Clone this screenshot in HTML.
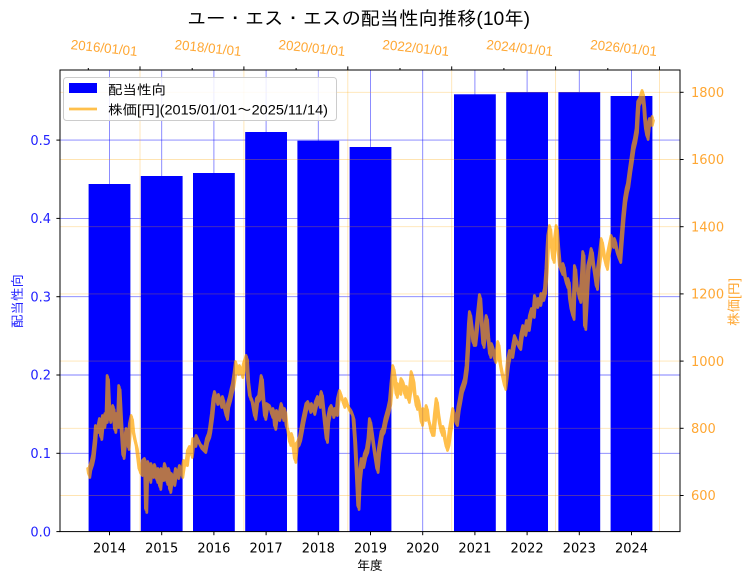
<!DOCTYPE html>
<html>
<head>
<meta charset="utf-8">
<style>
html,body{margin:0;padding:0;background:#fff;}
svg{display:block;}
.tk{font-family:"DejaVu Sans","Liberation Sans",sans-serif;font-size:13px;}
.jp{font-family:"Liberation Sans","IPAGothic","Noto Sans CJK JP",sans-serif;}
</style>
</head>
<body>
<svg width="753" height="584" viewBox="0 0 753 584" xmlns="http://www.w3.org/2000/svg">
<defs>
<polyline id="px" fill="none" stroke="#ffa500" stroke-width="2.8" stroke-linejoin="round" stroke-linecap="round" points="
88.3,470 89,475 90,468 92,462 93.3,456 95,440 96,427 98,430 100,420 101,437 103,417 104,425 105.5,415 106.5,420 107.7,377 109,405 110,420 111,412 113.3,407 115,430 116.5,415 118,425 119.3,387 121,420 123.3,456 125,440 126.7,430 128.3,447 130,425 131.7,417 133,430 135,440 136.7,447 138,458 139.5,470 141.7,473 143,462 145,460 146,510 147,470 148.3,463 150,480 151.5,465 153,475 155,466 157,480 158.5,470 160,487 161.5,470 163,478 165,465 167,482 169,470 170,490 172,475 174,483 176,470 178,476 180,467 182,475 184,462 186.7,463 188,452 190,448 191.5,455 193.3,440 195,444 196.7,437 199,442 201,446 203,448 205,450 207,440 209,435 210,430 212,415 213.5,400 215,393 217,402 219,396 221,405 223,398 225,410 226.7,417 228,405 230,398 231.7,390 233,385 234.5,375 236,363 238,372 240,367 242,375 244,365 246.7,357 248,380 250,397 252,400 255,417 257,400 259.3,397 261.7,377 263,395 265,417 267,405 270,407 272,415 273.5,410 275,427 277,412 279,418 281.7,405 283,418 285,410 286.7,427 288,430 290,443 292,435 293.5,448 295,460 296.5,445 298.3,443 300,438 301.5,430 303.3,420 305,412 306.5,405 308.3,403 310,410 312,405 314,412 316,403 318,398 319.5,405 321.7,393 323.5,410 325,425 326.7,440 328,420 330,410 331.7,407 333,415 335,410 336.7,413 338,400 340,392 342,398 344,405 346,400 348.3,407 350,410 351.5,412 353.3,417 355,440 356.7,473 357.5,490 358.3,507 359.5,480 361.7,460 363,465 365,455 367,450 368.5,440 370,420 371.5,430 373.3,443 375,455 377.3,470 379,450 381.7,433 383.5,430 385.5,420 388.3,410 390,402 391.5,385 393.3,367 395,378 396.5,395 398,385 400,392 401.5,380 403.3,383 405,395 407,388 408.5,400 410,390 411.7,373 413.3,380 414.5,393 416.7,407 418,398 420,410 421.7,423 423.5,410 425,418 426.7,407 428,418 430,425 431.7,433 433.3,433 435,415 436.7,400 438,412 440,425 441.7,433 443.5,428 445,440 446.7,448 448.3,443 450,430 451.7,420 453.3,410 455,420 456.7,423 458.5,408 460,400 461.7,390 463.5,385 465,380 466.7,367 468,345 469,325 470,313 471.5,325 473.3,343 475,343 476.5,330 478,315 480,296 481.5,320 483.3,345 485,330 486.7,317 488,335 490,355 492,345 493.5,350 495,360 497,352 498.3,343 500,362 501.5,370 503,378 505,387 506.5,375 508,362 510,352 512,355 513.5,345 515,337 517,342 518.5,345 520,347 521.5,335 523.3,327 525,333 527,322 528.5,328 530,317 532,310 533.5,315 535,297 537,305 538.5,300 540,303 541.5,295 543,298 545,290 546.5,270 547.5,250 548.3,237 550,227 551.5,245 553.3,260 555,240 556.7,227 558,245 560,267 562,272 563.5,265 565,277 567,285 568.5,280 570,300 571.5,310 573.3,317 575,267 576.5,285 578,290 580,300 581.5,285 583.3,253 584.2,290 585,327 586.5,300 588.3,267 590,260 591.7,250 593,262 595,275 596.7,287 598,270 600,255 601.7,240 603,248 604.5,258 606.7,267 608,255 610,245 611.7,237 613,245 615,240 616.7,250 618,255 620,260 621.5,240 623.3,217 625,200 626.7,190 628,185 630,170 631.5,160 633.3,147 635,140 636.7,130 637.5,115 638.3,103 640,100 642.7,92 644,105 645,120 646,130 647.3,137 648.5,125 650,120 651.5,123 652.7,118"/>
</defs>
<rect x="0" y="0" width="753" height="584" fill="#fff"/>

<!-- blue grid -->
<g stroke="rgba(0,0,255,0.5)" stroke-width="0.9">
<line x1="109.5" y1="70" x2="109.5" y2="531.6"/>
<line x1="161.7" y1="70" x2="161.7" y2="531.6"/>
<line x1="213.9" y1="70" x2="213.9" y2="531.6"/>
<line x1="266.1" y1="70" x2="266.1" y2="531.6"/>
<line x1="318.3" y1="70" x2="318.3" y2="531.6"/>
<line x1="370.5" y1="70" x2="370.5" y2="531.6"/>
<line x1="422.7" y1="70" x2="422.7" y2="531.6"/>
<line x1="474.9" y1="70" x2="474.9" y2="531.6"/>
<line x1="527.1" y1="70" x2="527.1" y2="531.6"/>
<line x1="579.3" y1="70" x2="579.3" y2="531.6"/>
<line x1="631.5" y1="70" x2="631.5" y2="531.6"/>
<line x1="60" y1="453.3" x2="680" y2="453.3"/>
<line x1="60" y1="375.0" x2="680" y2="375.0"/>
<line x1="60" y1="296.7" x2="680" y2="296.7"/>
<line x1="60" y1="218.4" x2="680" y2="218.4"/>
<line x1="60" y1="140.1" x2="680" y2="140.1"/>
</g>

<!-- bars -->
<g fill="#0000ff">
<rect x="88.6" y="184" width="41.8" height="347.6"/>
<rect x="140.8" y="176" width="41.8" height="355.6"/>
<rect x="193.0" y="173" width="41.8" height="358.6"/>
<rect x="245.2" y="132" width="41.8" height="399.6"/>
<rect x="297.4" y="140.7" width="41.8" height="390.9"/>
<rect x="349.6" y="147" width="41.8" height="384.6"/>
<rect x="454.0" y="94.3" width="41.8" height="437.3"/>
<rect x="506.2" y="92" width="41.8" height="439.6"/>
<rect x="558.4" y="92" width="41.8" height="439.6"/>
<rect x="610.6" y="96" width="41.8" height="435.6"/>
</g>

<!-- orange grid -->
<g stroke="rgba(255,165,0,0.3)" stroke-width="0.9">
<line x1="60" y1="495.5" x2="680" y2="495.5"/>
<line x1="60" y1="428.3" x2="680" y2="428.3"/>
<line x1="60" y1="361.1" x2="680" y2="361.1"/>
<line x1="60" y1="293.9" x2="680" y2="293.9"/>
<line x1="60" y1="226.7" x2="680" y2="226.7"/>
<line x1="60" y1="159.5" x2="680" y2="159.5"/>
<line x1="60" y1="92.3" x2="680" y2="92.3"/>
<line x1="140" y1="70" x2="140" y2="531.6"/>
<line x1="243.9" y1="70" x2="243.9" y2="531.6"/>
<line x1="347.8" y1="70" x2="347.8" y2="531.6"/>
<line x1="451.7" y1="70" x2="451.7" y2="531.6"/>
<line x1="555.6" y1="70" x2="555.6" y2="531.6"/>
<line x1="659.5" y1="70" x2="659.5" y2="531.6"/>
</g>

<!-- price line (thickened noisy band, single alpha) -->
<g opacity="0.7">
<use href="#px"/>
<use href="#px" transform="translate(0.8 2.5)"/>
<use href="#px" transform="translate(-0.6 -1.5)"/>
</g>

<!-- legend -->
<rect x="63.5" y="77.5" width="273" height="43" rx="3" ry="3" fill="rgba(255,255,255,0.85)" stroke="#cccccc" stroke-width="1"/>
<rect x="69" y="83" width="28" height="10" fill="#0000ff"/>
<text class="jp" x="108" y="94.5" font-size="13.5" fill="#000" textLength="58" lengthAdjust="spacingAndGlyphs">配当性向</text>
<line x1="69" y1="109" x2="97" y2="109" stroke="rgba(255,165,0,0.7)" stroke-width="2.8"/>
<text class="jp" x="108" y="114.5" font-size="13.5" fill="#000" textLength="220" lengthAdjust="spacingAndGlyphs">株価[円](2015/01/01～2025/11/14)</text>

<!-- spines -->
<rect x="60" y="70" width="620" height="461.6" fill="none" stroke="#000" stroke-width="1"/>

<!-- ticks -->
<g stroke="#000" stroke-width="1">
<line x1="109.5" y1="531.6" x2="109.5" y2="535.2"/>
<line x1="161.7" y1="531.6" x2="161.7" y2="535.2"/>
<line x1="213.9" y1="531.6" x2="213.9" y2="535.2"/>
<line x1="266.1" y1="531.6" x2="266.1" y2="535.2"/>
<line x1="318.3" y1="531.6" x2="318.3" y2="535.2"/>
<line x1="370.5" y1="531.6" x2="370.5" y2="535.2"/>
<line x1="422.7" y1="531.6" x2="422.7" y2="535.2"/>
<line x1="474.9" y1="531.6" x2="474.9" y2="535.2"/>
<line x1="527.1" y1="531.6" x2="527.1" y2="535.2"/>
<line x1="579.3" y1="531.6" x2="579.3" y2="535.2"/>
<line x1="631.5" y1="531.6" x2="631.5" y2="535.2"/>
<line x1="56.4" y1="531.6" x2="60" y2="531.6"/>
<line x1="56.4" y1="453.3" x2="60" y2="453.3"/>
<line x1="56.4" y1="375.0" x2="60" y2="375.0"/>
<line x1="56.4" y1="296.7" x2="60" y2="296.7"/>
<line x1="56.4" y1="218.4" x2="60" y2="218.4"/>
<line x1="56.4" y1="140.1" x2="60" y2="140.1"/>
<line x1="680" y1="495.5" x2="683.6" y2="495.5"/>
<line x1="680" y1="428.3" x2="683.6" y2="428.3"/>
<line x1="680" y1="361.1" x2="683.6" y2="361.1"/>
<line x1="680" y1="293.9" x2="683.6" y2="293.9"/>
<line x1="680" y1="226.7" x2="683.6" y2="226.7"/>
<line x1="680" y1="159.5" x2="683.6" y2="159.5"/>
<line x1="680" y1="92.3" x2="683.6" y2="92.3"/>
<line x1="140" y1="66.4" x2="140" y2="70"/>
<line x1="243.9" y1="66.4" x2="243.9" y2="70"/>
<line x1="347.8" y1="66.4" x2="347.8" y2="70"/>
<line x1="451.7" y1="66.4" x2="451.7" y2="70"/>
<line x1="555.6" y1="66.4" x2="555.6" y2="70"/>
<line x1="659.5" y1="66.4" x2="659.5" y2="70"/>
<line x1="88.3" y1="68" x2="88.3" y2="70"/>
<line x1="192.2" y1="68" x2="192.2" y2="70"/>
<line x1="296.1" y1="68" x2="296.1" y2="70"/>
<line x1="400" y1="68" x2="400" y2="70"/>
<line x1="503.9" y1="68" x2="503.9" y2="70"/>
<line x1="607.8" y1="68" x2="607.8" y2="70"/>
</g>

<!-- bottom tick labels -->
<g class="tk" fill="#000" text-anchor="middle">
<text x="109.5" y="552.5">2014</text>
<text x="161.7" y="552.5">2015</text>
<text x="213.9" y="552.5">2016</text>
<text x="266.1" y="552.5">2017</text>
<text x="318.3" y="552.5">2018</text>
<text x="370.5" y="552.5">2019</text>
<text x="422.7" y="552.5">2020</text>
<text x="474.9" y="552.5">2021</text>
<text x="527.1" y="552.5">2022</text>
<text x="579.3" y="552.5">2023</text>
<text x="631.5" y="552.5">2024</text>
</g>

<!-- left tick labels -->
<g class="tk" fill="#2222ff" text-anchor="end">
<text x="51" y="536.3">0.0</text>
<text x="51" y="458.0">0.1</text>
<text x="51" y="379.7">0.2</text>
<text x="51" y="301.4">0.3</text>
<text x="51" y="223.1">0.4</text>
<text x="51" y="144.8">0.5</text>
</g>

<!-- right tick labels -->
<g class="tk" fill="#ffa733" text-anchor="start">
<text x="691" y="500.2">600</text>
<text x="691" y="433.0">800</text>
<text x="691" y="365.8">1000</text>
<text x="691" y="298.6">1200</text>
<text x="691" y="231.4">1400</text>
<text x="691" y="164.2">1600</text>
<text x="691" y="97.0">1800</text>
</g>

<!-- top tick labels -->
<g class="jp" fill="#ffa733" font-size="13.5" text-anchor="end">
<text x="137" y="56" transform="rotate(6 137 56)" textLength="67" lengthAdjust="spacingAndGlyphs">2016/01/01</text>
<text x="240.9" y="56" transform="rotate(6 240.9 56)" textLength="67" lengthAdjust="spacingAndGlyphs">2018/01/01</text>
<text x="344.8" y="56" transform="rotate(6 344.8 56)" textLength="67" lengthAdjust="spacingAndGlyphs">2020/01/01</text>
<text x="448.7" y="56" transform="rotate(6 448.7 56)" textLength="67" lengthAdjust="spacingAndGlyphs">2022/01/01</text>
<text x="552.6" y="56" transform="rotate(6 552.6 56)" textLength="67" lengthAdjust="spacingAndGlyphs">2024/01/01</text>
<text x="656.5" y="56" transform="rotate(6 656.5 56)" textLength="67" lengthAdjust="spacingAndGlyphs">2026/01/01</text>
</g>

<!-- axis labels -->
<text class="jp" x="0" y="0" font-size="13.5" fill="#2222ff" text-anchor="middle" transform="translate(22 301) rotate(-90)">配当性向</text>
<text class="jp" x="0" y="0" font-size="13.5" fill="#ffa733" text-anchor="middle" transform="translate(738.5 302) rotate(-90)">株価[円]</text>
<text class="jp" x="370" y="570" font-size="13" fill="#000" text-anchor="middle">年度</text>

<!-- title -->
<text class="jp" x="187" y="25" font-size="19" fill="#000" textLength="343" lengthAdjust="spacingAndGlyphs">ユー・エス・エスの配当性向推移(10年)</text>
</svg>
</body>
</html>
